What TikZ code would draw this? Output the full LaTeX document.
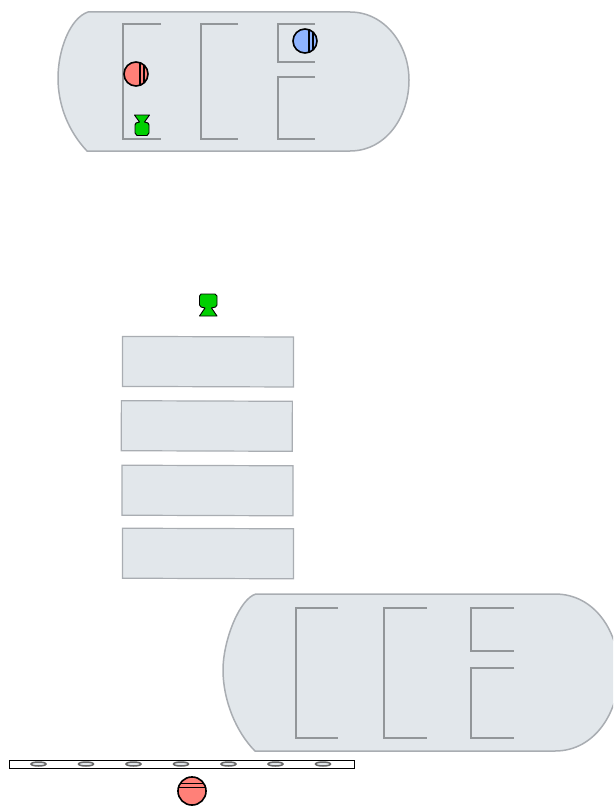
\documentclass[tikz,border=0pt]{standalone}
\usepackage{xcolor}
\usetikzlibrary{positioning,shapes.geometric}
\definecolor{hull}{HTML}{E2E7EB}
\definecolor{edge}{HTML}{A9ADB2}
\definecolor{wallgray}{HTML}{929699}
\definecolor{redball}{HTML}{FF8078}
\definecolor{blueball}{HTML}{8FB4FF}
\definecolor{greenman}{HTML}{00D000}
\tikzset{
  hullshape/.style={draw=edge,fill=hull,line width=1.5pt,line join=round},
  wall/.style={draw=wallgray,line width=1.5pt},
  slab/.style={rectangle,draw=edge,fill=hull,line width=1.2pt,minimum width=171pt,minimum height=50pt,inner sep=0pt},
  man/.style={draw=black,fill=greenman,line width=0.9pt,line join=round},
  peg/.style={ellipse,draw=gray!80!black,fill=hull,line width=1.5pt,minimum width=15pt,minimum height=4pt,inner sep=0pt},
  pics/ball/.style 2 args={code={
    \fill[pic actions] (0,0) circle (12);
    \begin{scope}
      \clip (0,0) circle (12);
      \draw[black,line width=1.4pt] (#1,-13) -- (#1,13);
      \draw[black,line width=1.4pt] (#2,-13) -- (#2,13);
    \end{scope}
    \draw[black,line width=1.6pt] (0,0) circle (12);
  }}
}
\begin{document}
\begin{tikzpicture}[x=1pt,y=-1pt]
\useasboundingbox (0,0) rectangle (613,808);
\begin{scope}
\clip (0,0) rectangle (613,808);
% upper hull
\draw[hullshape] (88,12) -- (350,12) .. controls (385,12) and (409,45) .. (409,80)
  .. controls (409,118) and (385,151) .. (350,151) -- (87,151)
  .. controls (69,132) and (58,106) .. (58,78) .. controls (58,50) and (70,18) .. (88,12) -- cycle;
\draw[wall] (161,24) -| (123,139) -- (161,139);
\draw[wall] (238,24) -| (201,139) -- (238,139);
\draw[wall] (315,24) -| (278,62) -- (315,62);
\draw[wall] (315,77) -| (278,139) -- (315,139);
\pic[fill=redball] at (136,74) {ball={4}{8}};
\pic[fill=blueball] at (305,41) {ball={4}{8}};
\draw[man] (134.5,115) -- (149.5,115) -- (144.5,122) -- (148,123) -- (149,125) -- (149,133) -- (147,135.5) -- (137,135.5) -- (135,133) -- (135,125) -- (136,123) -- (139.5,122) -- cycle;
% lower hull
\draw[hullshape] (256,594) -- (555,594) .. controls (595,594) and (619,632) .. (619,672)
  .. controls (619,712) and (595,751) .. (555,751) -- (255,751)
  .. controls (236,732) and (223,700) .. (223,670) .. controls (223,640) and (240,598) .. (256,594) -- cycle;
\draw[wall] (338,608) -| (296,738) -- (338,738);
\draw[wall] (427,608) -| (384,738) -- (427,738);
\draw[wall] (514,608) -| (471,651) -- (514,651);
\draw[wall] (514,668) -| (471,738) -- (514,738);
\end{scope}
% queue
\draw[man] (201,294) -- (215,294) -- (217,296) -- (217,305) -- (215.5,307) -- (211.5,308) -- (217,316) -- (199.5,316) -- (205,308) -- (201,307) -- (199.5,305) -- (199.5,296) -- cycle;
\node[slab,rotate=-0.2] (slaba) at (208,361.7) {};
\node[slab,rotate=-0.2] (slabb) at (206.8,426) {};
\node[slab,rotate=-0.2] (slabc) at (207.5,490.5) {};
\node[slab,rotate=-0.2] (slabd) at (208,553.5) {};
% rail
\node[rectangle,draw=black,fill=white,line width=0.9pt,minimum width=345pt,minimum height=8pt,inner sep=0pt] (rail) at (181.5,764) {};
\foreach \x in {38.5,86,133.5,181,228.5,275.5,323}
  \node[peg] at (\x,764) {};
\pic[fill=redball,rotate=90,scale=1.17] at (192,791) {ball={3}{6.6}};
\end{tikzpicture}
\end{document}
